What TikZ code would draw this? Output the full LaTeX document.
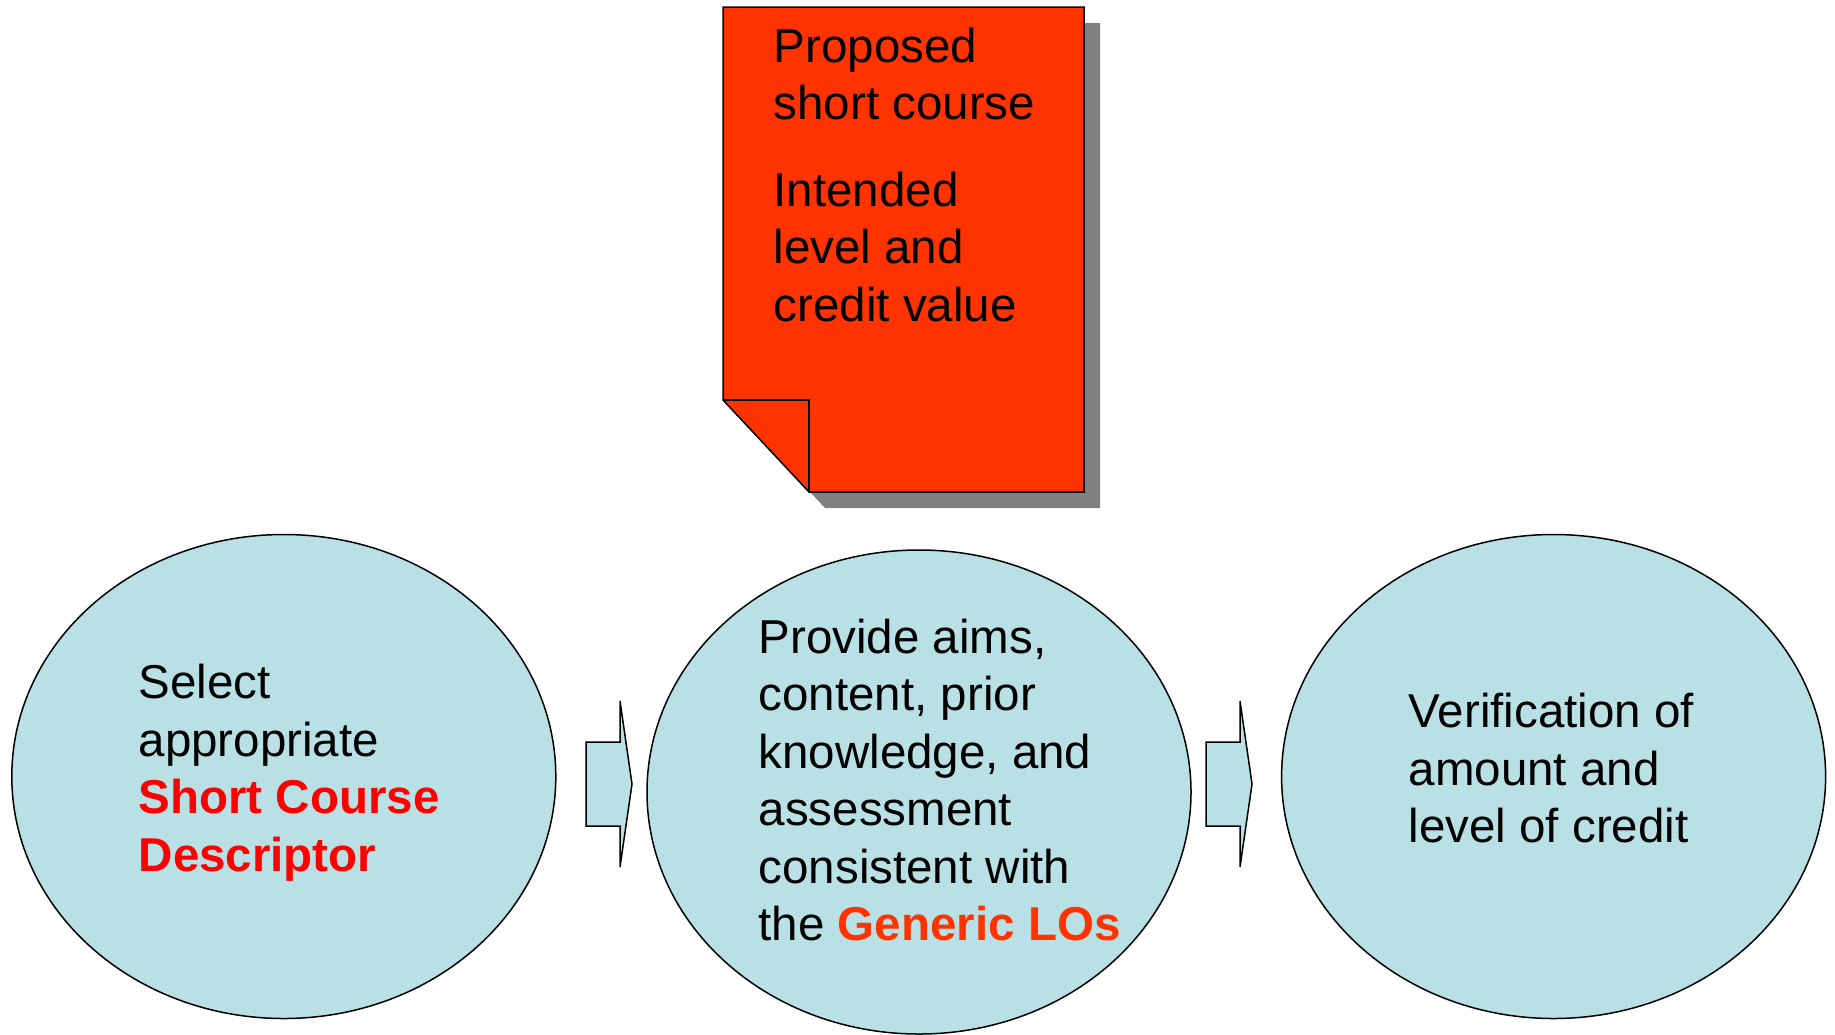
\documentclass[tikz,border=0pt]{standalone}
\usepackage{fontspec}
\setmainfont{Liberation Sans}
\usetikzlibrary{shapes.geometric}
\definecolor{stagefill}{RGB}{185,224,228}
\definecolor{docfill}{RGB}{255,51,0}
\definecolor{shadowgray}{RGB}{128,128,128}
\def\hl#1{\textcolor{red}{\bfseries #1}}
\def\hlo#1{\textcolor{docfill}{\bfseries #1}}
\begin{document}
\begin{tikzpicture}[x=1pt,y=-1pt,line width=1.5pt,
every node/.style={align=left,inner sep=0pt,font=\fontsize{47.5}{57.5}\selectfont},
stage/.style={ellipse,draw,fill=stagefill,minimum width=544,minimum height=484},
blockarrow/.style={draw,fill=stagefill,line join=miter}]
\useasboundingbox (0,0) rectangle (1835,1034);
% proposal sheet with shadow and folded corner
\fill[shadowgray] (739,23) -- (1100,23) -- (1100,508) -- (825,508) -- (739,416) -- cycle;
\draw[fill=docfill] (723,7) -- (1084,7) -- (1084,492) -- (809,492) -- (723,400) -- cycle;
\draw (723,400) -- (809,400) -- (809,492);
\node[anchor=west] (proposal) at (773,175) {Proposed\\short course\\[29pt]Intended\\level and\\credit value};
% the three stages
\node[stage] (select) at (283.8,776.5) {};
\node[stage] (provide) at (919,792) {};
\node[stage] (verify) at (1553.6,776.5) {};
\node[anchor=west] (selecttxt) at (138,772.5) {Select\\appropriate\\\hl{Short Course}\\\hl{Descriptor}};
\node[anchor=west] (providetxt) at (758,780) {Provide aims,\\content, prior\\knowledge, and\\assessment\\consistent with\\the \hlo{Generic LOs}};
\node[anchor=west] (verifytxt) at (1408,768.5) {Verification of\\amount and\\level of credit};
% block arrows between stages
\coordinate (arr1) at (586,784);
\coordinate (arr2) at (1206,784);
\foreach \a in {arr1,arr2}
  \draw[blockarrow] (\a) ++(0,-42) -- ++(34,0) -- ++(0,-41) -- ++(12,83) -- ++(-12,83) -- ++(0,-41) -- ++(-34,0) -- cycle;
\end{tikzpicture}
\end{document}
